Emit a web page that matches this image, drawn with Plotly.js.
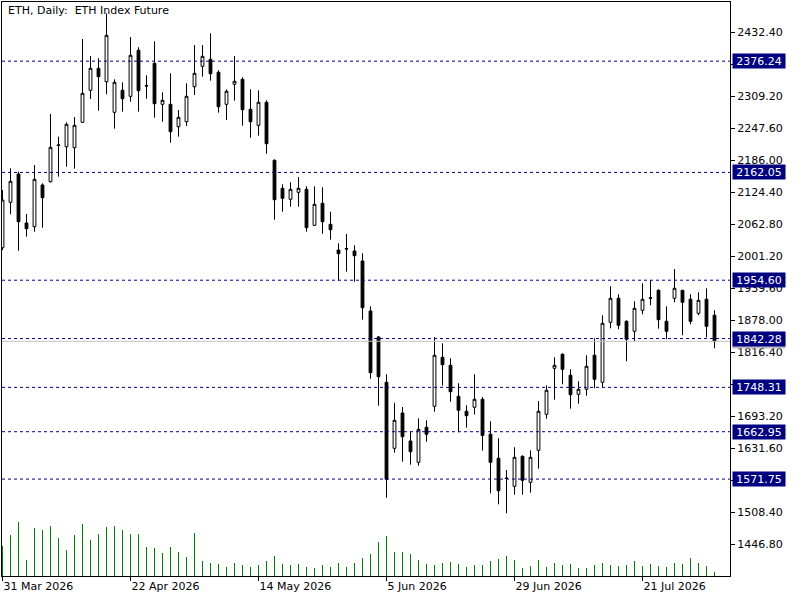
<!DOCTYPE html>
<html>
<head>
<meta charset="utf-8">
<script src="https://cdn.plot.ly/plotly-3.0.1.min.js"></script>
<style>
  html, body { margin: 0; padding: 0; background: #fff; }
  #chart { width: 800px; height: 600px; }
</style>
</head>
<body>
<div id="chart"></div>
<script>
// daily bars, 31 Mar 2026 .. 3 Aug 2026 (weekdays)
const open = [
  2017.2, 2104.6, 2159.1, 2064.7, 2057.6, 2137.9, 2144.2, 2213.9, 2211.6, 2209.7,
  2258.6, 2320.2, 2362.5, 2336.7, 2277.8, 2320.2, 2308.6, 2397.2, 2329.4, 2372.1,
  2293.2, 2293.2, 2250.1, 2259.7, 2327.1, 2366.4, 2379.8, 2354.8, 2293.2, 2331.7,
  2341.3, 2283.6, 2252.8, 2297.1, 2185.4, 2131.5, 2110.4, 2123.8, 2129.6, 2060.3,
  2102.6, 2062.2, 2012.8, 2015.6, 2010.8, 1991.6, 1895.3, 1845.3, 1758.1, 1631.0,
  1699.0, 1645.1, 1604.1, 1671.5, 1711.9, 1806.2, 1790.8, 1731.1, 1702.3, 1710.0,
  1725.4, 1658.2, 1611.8, 1573.9, 1557.9, 1615.6, 1565.6, 1627.2, 1696.5, 1785.0,
  1812.0, 1771.6, 1735.0, 1744.6, 1810.1, 1758.1, 1873.6, 1919.8, 1875.5, 1856.3,
  1896.7, 1920.7, 1935.2, 1875.5, 1919.8, 1935.2, 1917.9, 1890.9, 1917.9, 1887.1
];
const high = [
  2128.3, 2170.0, 2163.5, 2082.0, 2176.4, 2141.1, 2274.6, 2230.9, 2258.6, 2268.8,
  2418.9, 2386.2, 2381.8, 2468.4, 2341.3, 2335.6, 2422.8, 2403.0, 2349.0, 2414.5,
  2316.3, 2352.9, 2282.3, 2333.6, 2407.4, 2407.4, 2429.9, 2358.7, 2322.1, 2386.2,
  2345.2, 2322.1, 2320.2, 2300.9, 2187.3, 2139.2, 2143.1, 2153.3, 2135.4, 2135.4,
  2133.5, 2086.5, 2025.6, 2043.6, 2021.8, 2006.4, 1904.4, 1847.2, 1773.5, 1718.2,
  1710.5, 1663.8, 1688.8, 1684.9, 1845.3, 1833.1, 1804.3, 1756.2, 1713.8, 1773.5,
  1729.4, 1683.0, 1650.3, 1589.3, 1633.0, 1617.6, 1627.2, 1722.1, 1752.3, 1806.2,
  1813.9, 1783.1, 1760.0, 1810.1, 1842.8, 1887.1, 1942.9, 1927.5, 1877.4, 1914.0,
  1948.7, 1954.4, 1937.1, 1904.4, 1976.2, 1935.8, 1927.5, 1931.3, 1939.0, 1896.7
];
const low = [
  2012.8, 2081.5, 2011.4, 2038.4, 2048.0, 2055.7, 2142.7, 2153.9, 2173.1, 2169.3,
  2257.2, 2303.4, 2280.9, 2312.5, 2246.3, 2279.0, 2298.2, 2279.0, 2304.0, 2267.4,
  2259.7, 2219.3, 2230.9, 2251.5, 2311.1, 2346.4, 2338.7, 2277.1, 2263.0, 2300.2,
  2252.0, 2228.9, 2232.8, 2198.1, 2071.1, 2086.5, 2096.1, 2096.1, 2048.0, 2059.0,
  2044.1, 2032.6, 1953.7, 1971.0, 1951.7, 1878.6, 1765.0, 1713.0, 1535.9, 1622.6,
  1605.2, 1599.5, 1597.5, 1643.7, 1701.5, 1751.5, 1720.7, 1661.8, 1670.7, 1696.1,
  1626.8, 1544.4, 1523.2, 1505.9, 1541.7, 1541.7, 1545.6, 1591.8, 1688.0, 1724.6,
  1754.2, 1707.3, 1716.9, 1732.3, 1746.5, 1748.5, 1862.0, 1860.1, 1798.5, 1837.0,
  1889.0, 1906.3, 1861.3, 1840.9, 1912.1, 1848.6, 1869.7, 1887.1, 1844.7, 1823.5
];
const close = [
  2109.0, 2145.0, 2067.2, 2053.8, 2148.8, 2113.4, 2210.4, 2214.9, 2254.7, 2252.8,
  2314.4, 2362.5, 2346.4, 2426.0, 2335.6, 2304.0, 2387.5, 2319.4, 2328.5, 2294.4,
  2300.9, 2240.5, 2268.2, 2308.6, 2352.9, 2385.6, 2352.1, 2288.6, 2318.3, 2337.5,
  2282.8, 2259.7, 2297.1, 2217.4, 2109.6, 2112.3, 2129.6, 2131.5, 2055.7, 2100.7,
  2067.2, 2051.8, 2005.6, 2014.7, 2001.8, 1901.7, 1776.6, 1768.9, 1571.4, 1684.9,
  1653.4, 1624.5, 1667.6, 1658.0, 1810.1, 1792.0, 1740.0, 1704.2, 1693.8, 1725.4,
  1655.7, 1604.1, 1549.4, 1572.9, 1613.7, 1569.4, 1613.7, 1702.3, 1742.7, 1790.8,
  1783.1, 1734.2, 1744.6, 1788.9, 1763.9, 1871.7, 1919.8, 1867.8, 1840.9, 1900.5,
  1917.9, 1919.8, 1878.6, 1856.3, 1939.0, 1912.1, 1875.5, 1915.9, 1865.9, 1837.0
];
// tick volume (relative)
const volume = [
  30, 41, 54, 16, 48, 46, 50, 38, 26, 41,
  52, 36, 42, 49, 50, 46, 42, 42, 29, 28,
  23, 29, 24, 19, 43, 15, 13, 12, 9, 13,
  11, 9, 11, 15, 20, 12, 11, 12, 9, 8,
  11, 9, 13, 9, 13, 18, 22, 34, 40, 24,
  24, 22, 16, 12, 11, 13, 14, 12, 9, 11,
  11, 15, 17, 20, 16, 8, 10, 16, 9, 13,
  11, 12, 8, 8, 11, 13, 11, 10, 11, 15,
  10, 12, 10, 9, 13, 12, 18, 13, 10, 4
];

const dateTickIdx = [0, 16, 32, 48, 64, 80];
const dateTickText = ['31 Mar 2026', '22 Apr 2026', '14 May 2026', '5 Jun 2026', '29 Jun 2026', '21 Jul 2026'];
const priceTicks = [2432.40, 2370.80, 2309.20, 2247.60, 2186.00, 2124.40, 2062.80, 2001.20,
  1939.60, 1878.00, 1816.40, 1754.80, 1693.20, 1631.60, 1570.00, 1508.40, 1446.80];
const levels = [2376.24, 2162.05, 1954.60, 1842.28, 1748.31, 1662.95, 1571.75];

const FONT = 'DejaVu Sans, Tahoma, sans-serif';
const NAVY = '#000080';
const bid = close[close.length - 1];
const xs = close.map((_, i) => i);

const candles = {
  type: 'candlestick',
  x: xs, open: open, high: high, low: low, close: close,
  increasing: { line: { color: 'black', width: 1 }, fillcolor: 'white' },
  decreasing: { line: { color: 'black', width: 1 }, fillcolor: 'black' },
  whiskerwidth: 0,
  hoverinfo: 'skip',
  showlegend: false
};

const volBars = {
  type: 'bar',
  x: xs, y: volume,
  yaxis: 'y2',
  width: 0.125,
  marker: { color: '#008000', line: { width: 0 } },
  hoverinfo: 'skip',
  showlegend: false
};

const shapes = levels.map(v => ({
  type: 'line', xref: 'paper', x0: 0, x1: 1, yref: 'y', y0: v, y1: v,
  line: { color: NAVY, width: 1, dash: '3px,3px' }
}));
shapes.push({
  type: 'line', xref: 'paper', x0: 0, x1: 1, yref: 'y', y0: bid, y1: bid,
  line: { color: '#c0c0c0', width: 1 }
});

function priceLabel(v, bg) {
  return {
    xref: 'paper', x: 1, xanchor: 'left', xshift: 2,
    yref: 'y', y: v, yanchor: 'middle',
    text: v.toFixed(2), showarrow: false,
    bgcolor: bg, borderpad: 1, width: 50, height: 12,
    font: { family: FONT, size: 11, color: 'white' }
  };
}

const annotations = [priceLabel(bid, '#c0c0c0')]
  .concat(levels.map(v => priceLabel(v, NAVY)));
annotations.push({
  xref: 'paper', x: 0, xanchor: 'left', xshift: 4,
  yref: 'paper', y: 1, yanchor: 'top', yshift: 0,
  text: 'ETH, Daily:\u00a0 ETH Index Future', showarrow: false,
  font: { family: FONT, size: 11, color: 'black' }
});

const layout = {
  width: 800, height: 600,
  margin: { l: 2, r: 70, t: 2, b: 24 },
  paper_bgcolor: 'white', plot_bgcolor: 'white',
  showlegend: false,
  boxgap: 0.5,
  font: { family: FONT, size: 11, color: 'black' },
  xaxis: {
    type: 'linear',
    range: [-0.0625, 90.9375],
    rangeslider: { visible: false },
    showgrid: false, zeroline: false,
    showline: true, mirror: true, linecolor: 'black', linewidth: 1,
    tickmode: 'array', tickvals: dateTickIdx, ticktext: dateTickText,
    ticks: 'outside', ticklen: 4, tickcolor: 'black',
    ticklabelposition: 'outside right',
    tickfont: { family: FONT, size: 11, color: 'black' }
  },
  yaxis: {
    side: 'right',
    range: [1385.2, 2490.15],
    showgrid: false, zeroline: false,
    showline: true, mirror: true, linecolor: 'black', linewidth: 1,
    tickmode: 'array', tickvals: priceTicks,
    ticktext: priceTicks.map(v => v.toFixed(2)),
    ticks: 'outside', ticklen: 4, tickcolor: 'black',
    tickfont: { family: FONT, size: 11, color: 'black' }
  },
  yaxis2: {
    overlaying: 'y',
    range: [0, 574],
    visible: false,
    showgrid: false, zeroline: false
  },
  shapes: shapes,
  annotations: annotations
};

Plotly.newPlot('chart', [volBars, candles], layout, { staticPlot: true, displayModeBar: false });
</script>
</body>
</html>
